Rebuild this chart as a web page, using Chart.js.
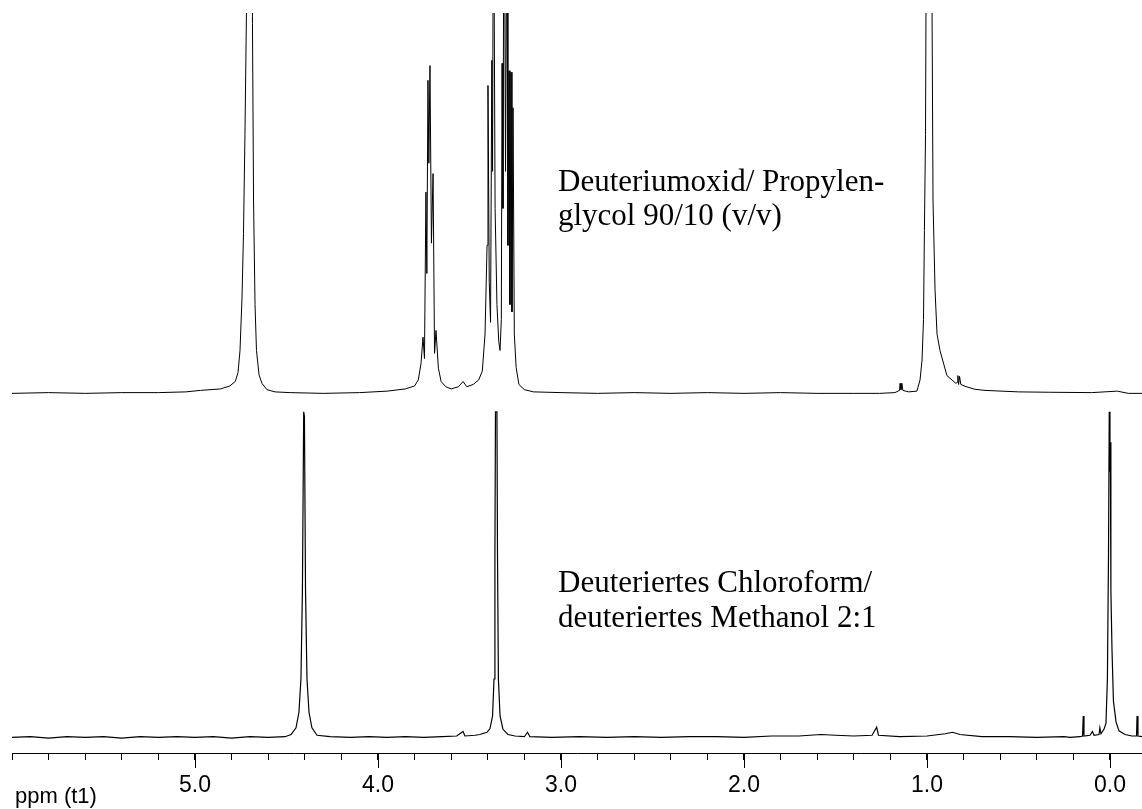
<!DOCTYPE html>
<html>
<head>
<meta charset="utf-8">
<script src="https://cdn.jsdelivr.net/npm/chart.js@4.4.1/dist/chart.umd.min.js"></script>
<style>
  html, body { margin: 0; padding: 0; background: #fff; }
  #nmr { display: block; }
</style>
</head>
<body>
<canvas id="nmr" width="1142" height="809"></canvas>
<script>
// 1H-Spektren, chemische Verschiebung (ppm) und Intensität (rel.)
const upperShift = [6.00, 5.80, 5.60, 5.40, 5.20, 5.05, 4.97, 4.86, 4.81, 4.78, 4.765, 4.754, 4.743, 4.735, 4.727, 4.719, 4.710, 4.691, 4.686, 4.680, 4.672, 4.664, 4.650, 4.634, 4.607, 4.563, 4.48, 4.30, 4.10, 3.95, 3.85, 3.80, 3.78, 3.765, 3.754, 3.746, 3.738, 3.733, 3.727, 3.722, 3.716, 3.708, 3.699, 3.691, 3.683, 3.670, 3.655, 3.630, 3.600, 3.560, 3.535, 3.515, 3.480, 3.450, 3.430, 3.415, 3.404, 3.399, 3.392, 3.385, 3.378, 3.374, 3.369, 3.360, 3.350, 3.340, 3.333, 3.326, 3.322, 3.317, 3.311, 3.303, 3.295, 3.290, 3.284, 3.279, 3.273, 3.268, 3.262, 3.255, 3.245, 3.230, 3.200, 3.150, 3.00, 2.80, 2.60, 2.40, 2.20, 2.00, 1.80, 1.60, 1.40, 1.26, 1.175, 1.150, 1.147, 1.142, 1.137, 1.132, 1.10, 1.055, 1.038, 1.027, 1.019, 1.014, 1.008, 1.005, 1.003, 0.975, 0.973, 0.967, 0.956, 0.945, 0.929, 0.891, 0.863, 0.842, 0.835, 0.831, 0.827, 0.822, 0.815, 0.792, 0.738, 0.683, 0.50, 0.33, 0.10, -0.04, -0.10, -0.175];
const upperIntensity = [0.0, 0.1, 0.0, 0.1, 0.1, 0.2, 0.4, 0.6, 1.0, 1.6, 2.8, 5.8, 13, 21.6, 35, 51, 150, 150, 50, 26, 12, 5.8, 2.5, 1.35, 0.5, 0.2, 0.1, 0.0, 0.1, 0.3, 0.6, 1.0, 1.8, 4, 7.6, 4.7, 27.2, 16.2, 42.3, 31.1, 44.3, 20.3, 29.7, 5.4, 8.5, 3.4, 1.6, 0.9, 0.6, 0.9, 1.6, 0.9, 1.2, 1.8, 3.0, 8.0, 20, 41.6, 15, 9.6, 45, 30, 75, 25, 12, 7, 5.8, 10, 44.6, 25, 78, 30, 70, 20, 43.6, 12, 43.4, 11, 38.6, 8, 3.5, 1.2, 0.5, 0.2, 0.1, 0.0, 0.1, 0.0, 0.1, 0.0, 0.1, 0.0, 0.0, 0.0, 0.1, 0.4, 1.35, 0.5, 1.35, 0.4, 0.2, 0.3, 1.8, 4.5, 10, 22, 35, 55, 150, 150, 55, 26, 14, 8, 5.8, 2.4, 1.8, 1.35, 1.5, 2.4, 1.2, 2.3, 1.2, 0.95, 0.55, 0.4, 0.2, 0.15, 0.1, 0.3, 0.0, 0.0];

const lowerShift = [6.00, 5.90, 5.80, 5.70, 5.60, 5.50, 5.40, 5.30, 5.20, 5.10, 5.00, 4.90, 4.80, 4.70, 4.60, 4.508, 4.475, 4.448, 4.432, 4.421, 4.413, 4.406, 4.402, 4.396, 4.388, 4.377, 4.361, 4.333, 4.262, 4.15, 4.05, 3.95, 3.85, 3.75, 3.65, 3.57, 3.535, 3.525, 3.47, 3.443, 3.404, 3.388, 3.374, 3.366, 3.361, 3.358, 3.350, 3.347, 3.342, 3.333, 3.317, 3.290, 3.251, 3.20, 3.183, 3.17, 3.05, 2.90, 2.75, 2.60, 2.45, 2.30, 2.15, 2.00, 1.85, 1.70, 1.58, 1.50, 1.40, 1.30, 1.275, 1.265, 1.15, 1.00, 0.90, 0.86, 0.82, 0.70, 0.55, 0.40, 0.25, 0.219, 0.164, 0.150, 0.146, 0.142, 0.109, 0.096, 0.087, 0.060, 0.055, 0.049, 0.033, 0.022, 0.014, 0.008, 0.004, 0.000, -0.002, -0.005, -0.011, -0.019, -0.033, -0.049, -0.082, -0.120, -0.145, -0.148, -0.153, -0.175];
const lowerIntensity = [0.1, 0.2, 0.0, 0.2, 0.1, 0.2, 0.0, 0.2, 0.1, 0.2, 0.1, 0.2, 0.0, 0.2, 0.1, 0.2, 0.5, 1.4, 3.5, 8, 20, 44.1, 43.5, 20, 8, 3.5, 1.4, 0.4, 0.2, 0.1, 0.2, 0.1, 0.2, 0.1, 0.2, 0.3, 0.9, 0.3, 0.4, 0.5, 0.8, 1.3, 3.0, 8, 25, 44.1, 44.1, 25, 8, 3.0, 1.2, 0.5, 0.3, 0.2, 0.8, 0.2, 0.1, 0.2, 0.1, 0.2, 0.1, 0.2, 0.2, 0.1, 0.3, 0.3, 0.5, 0.4, 0.3, 0.4, 1.5, 0.4, 0.2, 0.3, 0.6, 0.8, 0.5, 0.2, 0.2, 0.1, 0.2, 0.1, 0.2, 0.3, 3.0, 0.3, 0.4, 0.9, 0.4, 0.5, 1.4, 0.6, 1.2, 2.0, 8, 25, 44.1, 36, 40, 20, 12, 5, 2.2, 1.0, 0.5, 0.3, 0.3, 3.0, 0.3, 0.2];

// Achse
const majorTicks = [5, 4, 3, 2, 1, 0];
const shiftMin = -0.175;
const shiftMax = 6.0;
const upperOffset = 46.6;

const upperLabel = ["Deuteriumoxid/ Propylen-", "glycol 90/10 (v/v)"];
const lowerLabel = ["Deuteriertes Chloroform/", "deuteriertes Methanol 2:1"];

function toPoints(xs, ys, offset) {
    return xs.map((x, i) => ({ x: x, y: ys[i] + offset }));
}

// Beschriftungen und lange Hauptstriche
const extras = {
    id: "extras",
    afterDraw(chart) {
        const ctx = chart.ctx;
        const xs = chart.scales.x;
        ctx.save();
        ctx.strokeStyle = "#000";
        ctx.lineWidth = 1;
        majorTicks.forEach(v => {
            const px = Math.round(xs.getPixelForValue(v)) + 0.5;
            ctx.beginPath();
            ctx.moveTo(px, xs.top);
            ctx.lineTo(px, xs.top + 15);
            ctx.stroke();
        });
        ctx.fillStyle = "#000";
        ctx.font = '22px "Liberation Sans", Arial, sans-serif';
        ctx.textBaseline = "alphabetic";
        ctx.fillText("ppm (t1)", 15, 803);

        ctx.font = '31px "Liberation Serif", "Times New Roman", serif';
        ctx.fillText(upperLabel[0], 558, 191);
        ctx.fillText(upperLabel[1], 558, 225);
        ctx.fillText(lowerLabel[0], 558, 592);
        ctx.fillText(lowerLabel[1], 558, 627);
        ctx.restore();
    }
};

document.addEventListener("DOMContentLoaded", function () {
    const ctx = document.getElementById("nmr").getContext("2d");

    new Chart(ctx, {
        type: "line",
        data: {
            datasets: [
                {
                    label: "D2O / Propylenglycol",
                    data: toPoints(upperShift, upperIntensity, upperOffset),
                    borderColor: "#000",
                    borderWidth: 1,
                    pointRadius: 0,
                    tension: 0,
                    fill: false
                },
                {
                    label: "CDCl3 / CD3OD",
                    data: toPoints(lowerShift, lowerIntensity, 0),
                    borderColor: "#000",
                    borderWidth: 1.2,
                    pointRadius: 0,
                    tension: 0,
                    fill: false
                }
            ]
        },
        options: {
            responsive: false,
            animation: false,
            layout: { padding: { top: 13, left: 12, right: 0, bottom: 0 } },
            plugins: {
                legend: { display: false },
                tooltip: { enabled: false }
            },
            scales: {
                x: {
                    type: "linear",
                    reverse: true,
                    min: shiftMin,
                    max: shiftMax,
                    afterBuildTicks(axis) {
                        const list = [];
                        for (let i = 0; i <= 30; i++) list.push({ value: Math.round(i * 2) / 10 });
                        axis.ticks = list;
                    },
                    afterFit(axis) { axis.height = 56; },
                    border: { display: true, color: "#000", width: 1 },
                    grid: {
                        drawOnChartArea: false,
                        drawTicks: true,
                        tickLength: 7,
                        color: "#000"
                    },
                    ticks: {
                        autoSkip: false,
                        maxRotation: 0,
                        padding: 12,
                        color: "#000",
                        font: { family: "Liberation Sans", size: 23 },
                        callback: function (value) {
                            const isMajor = majorTicks.some(m => Math.abs(m - value) < 1e-6);
                            return isMajor ? value.toFixed(1) : "";
                        }
                    }
                },
                y: {
                    display: false,
                    min: -2,
                    max: 98
                }
            }
        },
        plugins: [extras]
    });
});
</script>
</body>
</html>
